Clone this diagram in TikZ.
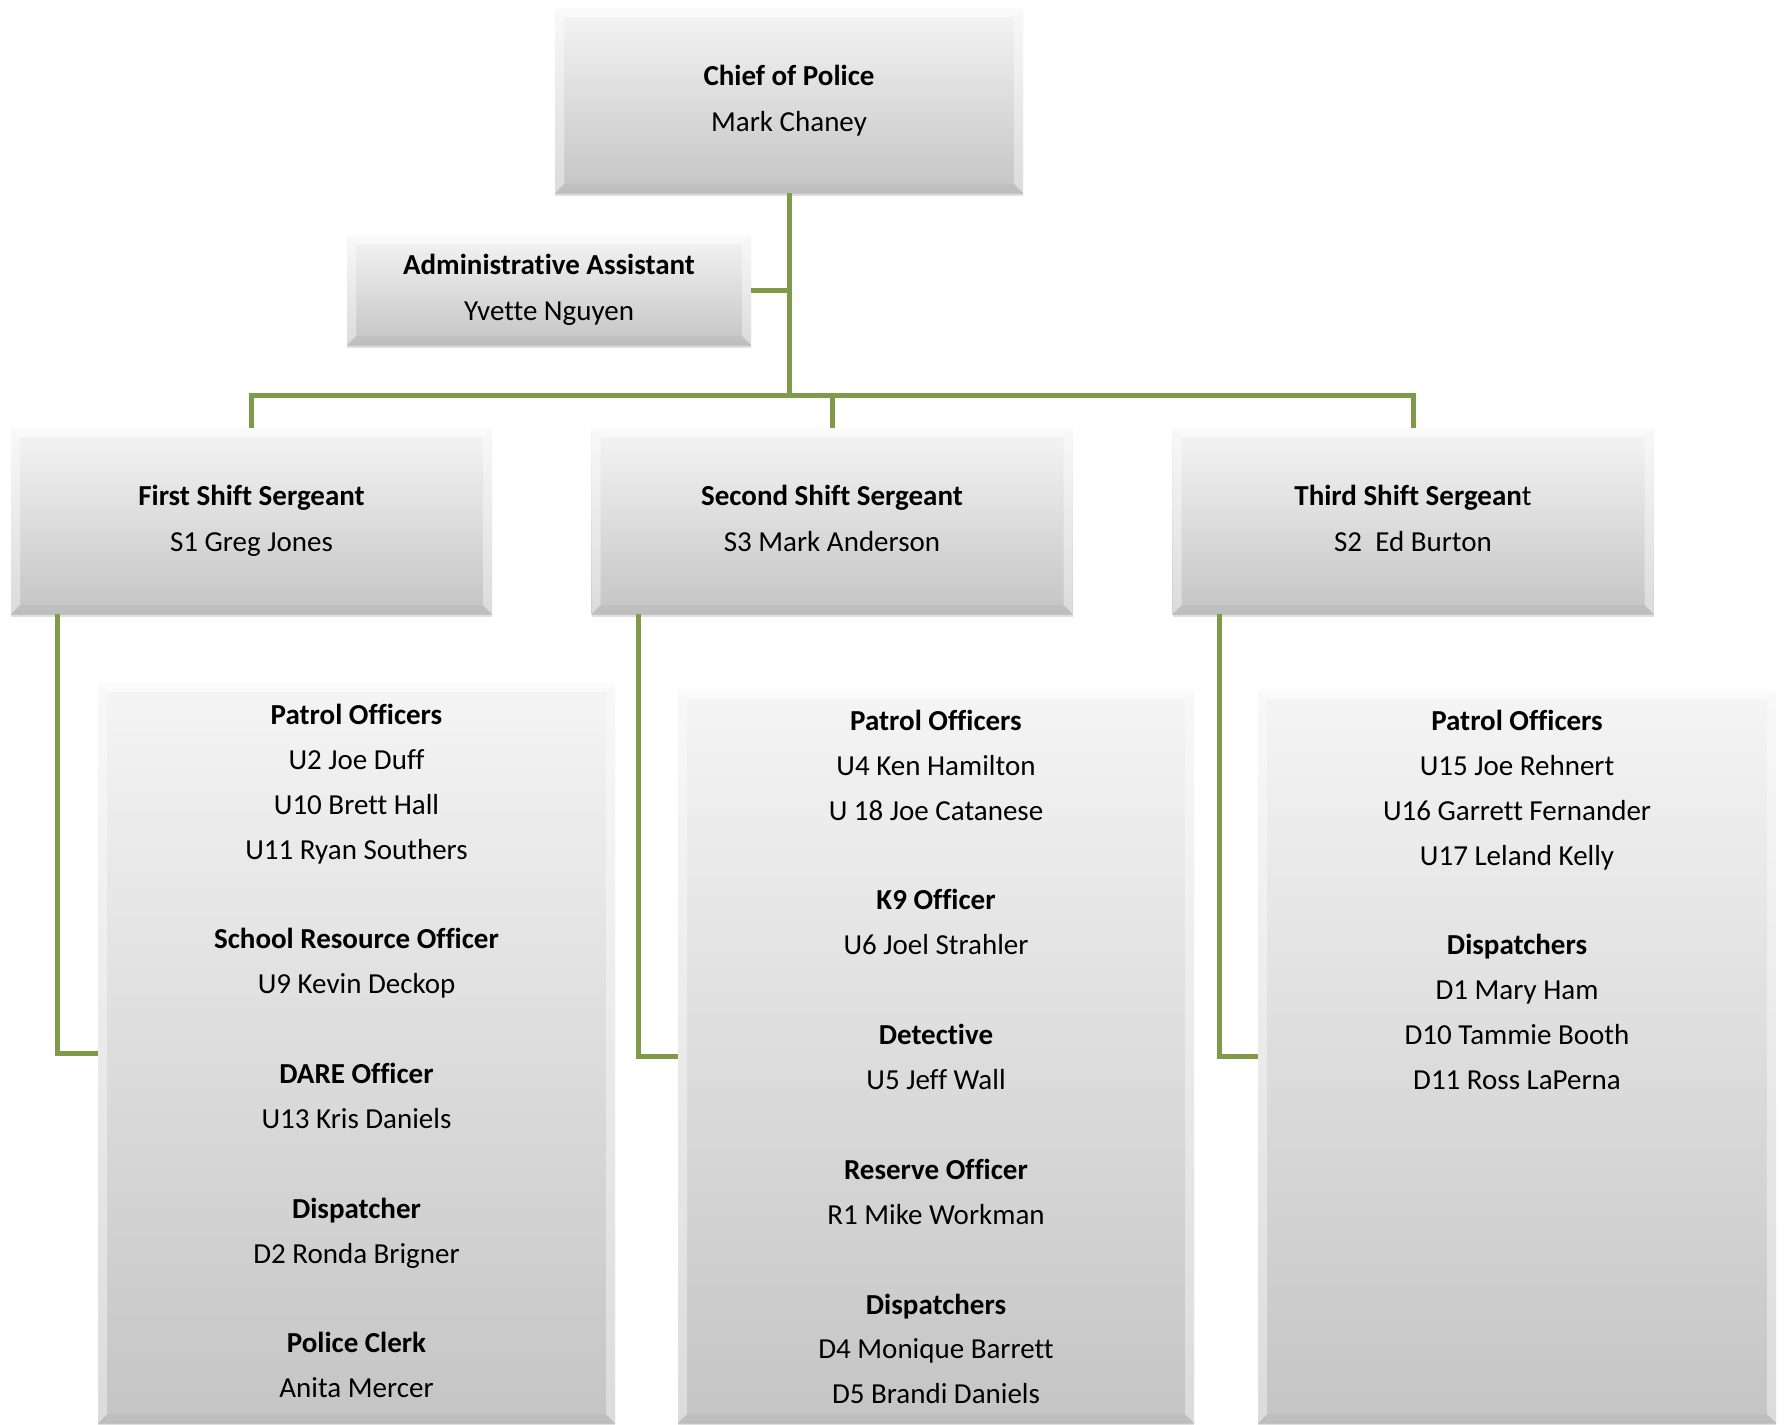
\documentclass[tikz,border=0pt]{standalone}
\usepackage{fontspec}
\setmainfont{Carlito}[Ligatures=NoCommon]
\usetikzlibrary{positioning,shadows}

\definecolor{linkgreen}{RGB}{127,154,72}

% light frame round the inside of each box
\newcommand{\boxbevel}{%
  \fill[white,opacity=.6] (path picture bounding box.north west) -- (path picture bounding box.north east)
    -- ([shift={(-9pt,-9pt)}]path picture bounding box.north east) -- ([shift={(9pt,-9pt)}]path picture bounding box.north west) -- cycle;
  \fill[white,opacity=.4] (path picture bounding box.north west) -- ([shift={(9pt,-9pt)}]path picture bounding box.north west)
    -- ([shift={(9pt,9pt)}]path picture bounding box.south west) -- (path picture bounding box.south west) -- cycle;
  \fill[white,opacity=.4] (path picture bounding box.north east) -- ([shift={(-9pt,-9pt)}]path picture bounding box.north east)
    -- ([shift={(-9pt,9pt)}]path picture bounding box.south east) -- (path picture bounding box.south east) -- cycle;
  \fill[black,opacity=.03] (path picture bounding box.south west) -- ([shift={(9pt,9pt)}]path picture bounding box.south west)
    -- ([shift={(-9pt,9pt)}]path picture bounding box.south east) -- (path picture bounding box.south east) -- cycle;
}

\tikzset{
  orgbox/.style={rectangle, top color=gray!8, bottom color=gray!46, inner sep=0pt,
    drop shadow={shadow xshift=0pt, shadow yshift=-3pt, opacity=.25},
    path picture={\boxbevel}, align=center, font=\fontsize{29}{46}\selectfont,
    execute at end node={\vphantom{g}}},
  listtext/.style={align=center, inner sep=0pt, anchor=north, font=\fontsize{29}{44.9}\selectfont},
  link/.style={draw=linkgreen, line width=5pt},
}

\begin{document}
\begin{tikzpicture}[x=1pt,y=-1pt]
\useasboundingbox (0,0) rectangle (1785,1424);

% Chief and assistant
\node[orgbox, minimum width=468pt, minimum height=185pt] (chief) at (789,100.5) {\textbf{Chief of Police}\\Mark Chaney};
\node[orgbox, minimum width=404pt, minimum height=110pt] (admin) at (549,290) {\textbf{Administrative Assistant}\\Yvette Nguyen};

% Shift sergeants
\node[orgbox, minimum width=481pt, minimum height=186pt] (sgtA) at (251.5,521) {\textbf{First Shift Sergeant}\\S1 Greg Jones};
\node[orgbox, minimum width=481pt, minimum height=186pt] (sgtB) at (832,521) {\textbf{Second Shift Sergeant}\\S3 Mark Anderson};
\node[orgbox, minimum width=481pt, minimum height=186pt] (sgtC) at (1413,521) {\textbf{Third Shift Sergean}t\\S2\ \ Ed Burton};

% Staff lists
\node[orgbox, minimum width=517pt, minimum height=740pt] (listA) at (356.5,1053) {};
\node[orgbox, minimum width=516pt, minimum height=733pt] (listB) at (936,1056.5) {};
\node[orgbox, minimum width=518pt, minimum height=733pt] (listC) at (1517,1056.5) {};

\node[listtext, below=21pt of listA.north] (staffA) {\textbf{Patrol Officers}\\U2 Joe Duff\\U10 Brett Hall\\U11 Ryan Southers\\[44.9pt]
  \textbf{School Resource Officer}\\U9 Kevin Deckop\\[44.9pt]
  \textbf{DARE Officer}\\U13 Kris Daniels\\[44.9pt]
  \textbf{Dispatcher}\\D2 Ronda Brigner\\[44.9pt]
  \textbf{Police Clerk}\\Anita Mercer};
\node[listtext, below=20pt of listB.north] (staffB) {\textbf{Patrol Officers}\\U4 Ken Hamilton\\U 18 Joe Catanese\\[44.9pt]
  \textbf{K9 Officer}\\U6 Joel Strahler\\[44.9pt]
  \textbf{Detective}\\U5 Jeff Wall\\[44.9pt]
  \textbf{Reserve Officer}\\R1 Mike Workman\\[44.9pt]
  \textbf{Dispatchers}\\D4 Monique Barrett\\D5 Brandi Daniels};
\node[listtext, below=20pt of listC.north] (staffC) {\textbf{Patrol Officers}\\U15 Joe Rehnert\\U16 Garrett Fernander\\U17 Leland Kelly\\[44.9pt]
  \textbf{Dispatchers}\\D1 Mary Ham\\D10 Tammie Booth\\D11 Ross LaPerna};

% Connectors
\coordinate (bus) at (789,395);
\draw[link] (chief.south) -- (bus);
\draw[link] (admin.east) -- (admin.east -| chief.south);
\draw[link] (sgtA.north) |- (bus) -| (sgtC.north);
\draw[link] (sgtB.north) -- (sgtB.north |- bus);

\foreach \s/\l in {sgtA/listA, sgtB/listB, sgtC/listC} {
    \draw[link] ([xshift=47pt]\s.south west) |- (\l.west);
}
\end{tikzpicture}
\end{document}
